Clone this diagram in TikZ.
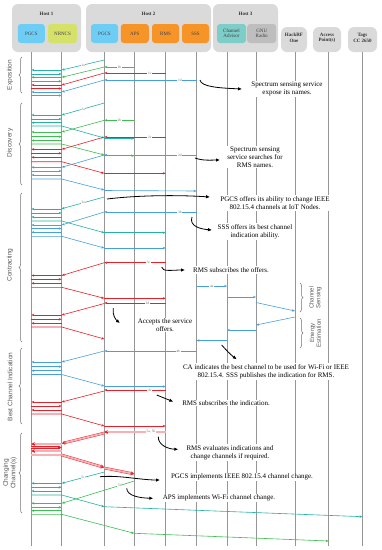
\documentclass[tikz,border=0pt]{standalone}
\usepackage{fontspec}
\setmainfont{Liberation Serif}
\setsansfont{Liberation Sans}
\usetikzlibrary{arrows.meta,decorations.pathreplacing,calc}
\definecolor{cteal}{RGB}{35,178,165}
\definecolor{cgreen}{RGB}{60,190,80}
\definecolor{cred}{RGB}{236,30,40}
\definecolor{cblue}{RGB}{70,160,220}
\definecolor{hostgrey}{RGB}{218,218,218}
\definecolor{pgcsblue}{RGB}{110,205,245}
\definecolor{nrncsyel}{RGB}{214,225,105}
\definecolor{apsorange}{RGB}{247,148,40}
\definecolor{cateal}{RGB}{125,205,200}
\definecolor{gnugrey}{RGB}{190,190,190}
\definecolor{lifegrey}{RGB}{150,150,150}
\tikzset{
 hostbox/.style={fill=hostgrey, rounded corners=6pt, inner sep=0pt},
 hostlbl/.style={font=\bfseries\fontsize{5}{5.5}\selectfont, text=black!80, align=center, inner sep=0pt},
 svc/.style={rounded corners=3pt, text=black!75, font=\fontsize{5}{5.5}\selectfont, align=center, inner sep=0pt, minimum height=19pt},
 life/.style={draw=lifegrey, line width=0.7pt},
 m/.style={line width=0.6pt, -{Stealth[length=3pt,width=2.4pt]}},
 dbl/.style={draw=cred, line width=0.4pt, double=cred!35, double distance=1.8pt, shorten >=2pt},
 dbltip/.style={cred, line width=0.5pt, -{Stealth[length=3.5pt,width=3.8pt]}},
 lbl/.style={fill=white, inner sep=0.8pt, font=\fontsize{3.5}{4}\selectfont, text=black!60},
 note/.style={fill=white, inner sep=1pt, font=\fontsize{7}{8}\selectfont, align=center},
 narrow/.style={line width=0.8pt, -{Latex[length=4pt,width=3.5pt]}},
 bracel/.style={decorate, decoration={brace, amplitude=3pt}, draw=black!55, line width=0.5pt},
 phase/.style={font=\sffamily\fontsize{6.5}{7.5}\selectfont, text=black!65, rotate=90, align=center},
}
\newcommand\seqm[6][m]{\draw[#1,#2] (#3 |- 0,#4) -- (#5 |- 0,#6);}
\newcommand\seqc[5][m]{\draw[#1,#2] (A |- 0,#3) -- (N |- 0,#3) -- (#4 |- 0,#5);}
\newcommand\dblm[4]{\draw[dbl] (#1 |- 0,#2) -- (#3 |- 0,#4);
 \draw[dbltip] ($(#3 |- 0,#4)!4pt!(#1 |- 0,#2)$) -- (#3 |- 0,#4);}
\begin{document}
\begin{tikzpicture}[x=1pt,y=-1pt]
\useasboundingbox (0,0) rectangle (381,550);
\fill[white] (0,0) rectangle (381,550);
% hosts
\node[hostbox, minimum width=69pt, minimum height=48pt] (host1) at (46.5,28) {};
\node[hostbox, minimum width=125pt, minimum height=48pt] (host2) at (148.5,28) {};
\node[hostbox, minimum width=65pt, minimum height=48pt] (host3) at (245.5,28) {};
\node[hostbox, minimum width=26pt, minimum height=25pt] (hackrf) at (294,39.5) {};
\node[hostbox, minimum width=28pt, minimum height=25pt] (ap) at (327,39.5) {};
\node[hostbox, minimum width=29pt, minimum height=25pt] (tags) at (362.5,39.5) {};
\node[hostlbl] (h1l) at (46.5,14) {Host 1};
\node[hostlbl] (h2l) at (148.5,14) {Host 2};
\node[hostlbl] (h3l) at (245.5,14) {Host 3};
\node[hostlbl] (hrl) at (294,38) {HackRF\\One};
\node[hostlbl] (apl) at (327,38) {Access\\Point(s)};
\node[hostlbl] (tgl) at (362.5,38) {Tags\\CC 2650};
\node[svc, fill=pgcsblue, minimum width=27pt] (pgcs1) at (31.3,33.5) {PGCS};
\node[svc, fill=nrncsyel, minimum width=29pt] (nrncs) at (62.5,33.5) {NRNCS};
\node[svc, fill=pgcsblue, minimum width=27pt] (pgcs2) at (104.5,33.5) {PGCS};
\node[svc, fill=apsorange, minimum width=28pt] (aps) at (134.8,33.5) {APS};
\node[svc, fill=apsorange, minimum width=27pt] (rms) at (165.5,33.5) {RMS};
\node[svc, fill=apsorange, minimum width=27pt] (sss) at (195.5,33.5) {SSS};
\node[svc, fill=cateal, minimum width=29pt] (ca) at (231.5,33.5) {Channel\\Advisor};
\node[svc, fill=gnugrey, minimum width=29pt] (gnu) at (261.7,33.5) {GNU\\Radio};
% lifelines
\coordinate (A) at (31.3,52);
\coordinate (N) at (61.7,52);
\coordinate (P) at (104.3,52);
\coordinate (Ap) at (134.3,52);
\coordinate (R) at (165.7,52);
\coordinate (S) at (196.5,52);
\coordinate (C) at (227,52);
\coordinate (G) at (256,52);
\coordinate (H) at (295,52);
\coordinate (W) at (328.5,52);
\coordinate (T) at (362.5,52);
\foreach \l in {A,N,P,Ap,R,S,C,G,H,W,T}{\draw[life] (\l) -- (\l |- 0,546);}
% ---------- Exposition
\draw[m,cteal] (P |- 0,60) -- (N |- 0,70) node[lbl,pos=0.5] (l1a) {1a};
\seqm{cteal}{N}{70}{A}{70}
\seqm{cteal}{A}{74}{N}{74}
\draw[m,cgreen] (Ap |- 0,67) -- (P |- 0,67) node[lbl,pos=0.5] (l1b) {1b};
\seqm{cgreen}{P}{67}{N}{77.3}
\seqm{cgreen}{N}{77.3}{A}{77.3}
\seqm{cgreen}{A}{81.3}{N}{81.3}
\draw[m,cred] (R |- 0,73) -- (P |- 0,73) node[lbl,pos=0.26] (l1c) {1c};
\seqm{cred}{P}{73}{N}{85}
\seqm{cred}{N}{85}{A}{85}
\seqm{cred}{A}{88.5}{N}{88.5}
\draw[m,cblue] (S |- 0,80) -- (P |- 0,80) node[lbl,pos=0.18] (l1d) {1d};
\seqm{cblue}{P}{80}{N}{92}
\seqm{cblue}{N}{92}{A}{92}
\seqm{cblue}{A}{95.5}{N}{95.5}
% ---------- Discovery
\draw[m,cteal] (P |- 0,103) -- (N |- 0,115) node[lbl,pos=0.5] (l2a) {2a};
\seqm{cteal}{N}{115}{A}{115}
\seqm{cteal}{A}{119}{N}{119}
\seqm{cteal}{N}{122.7}{A}{122.7}
\seqc{cteal}{126}{P}{138}
\seqm{cteal}{P}{138.5}{Ap}{138.5}
\draw[m,cgreen] (Ap |- 0,120.3) -- (P |- 0,120.3) node[lbl,pos=0.5] (l2b) {2b};
\seqm{cgreen}{P}{120.3}{N}{132}
\seqm{cgreen}{N}{132}{A}{132}
\seqm{cgreen}{A}{136.7}{N}{136.7}
\seqm{cgreen}{N}{140.5}{A}{140.5}
\seqc{cgreen}{144}{P}{155}
\seqm{cgreen}{P}{155.7}{Ap}{155.7}
\draw[m,cred] (R |- 0,137) -- (P |- 0,137) node[lbl,pos=0.26] (l2c) {2c};
\seqm{cred}{P}{137}{N}{149.3}
\seqm{cred}{N}{149.3}{A}{149.3}
\seqm{cred}{A}{153.3}{N}{153.3}
\seqm{cred}{N}{157.3}{A}{157.3}
\seqc{cred}{161.7}{P}{173.3}
\seqm{cred}{P}{173.3}{R}{173.3}
\draw[m,cblue] (S |- 0,155) -- (P |- 0,155) node[lbl,pos=0.18] (l2d) {2d};
\seqm{cblue}{P}{155}{N}{167.3}
\seqm{cblue}{N}{167.3}{A}{167.3}
\seqm{cblue}{A}{171}{N}{171}
\seqm{cblue}{N}{175}{A}{175}
\seqc{cblue}{179}{P}{190}
\seqm{cblue}{P}{190.5}{S}{191}
% ---------- Contracting
\draw[m,cteal] (P |- 0,197) -- (N |- 0,208.7) node[lbl,pos=0.5] (l3a) {3a};
\seqm{cteal}{N}{209}{A}{209}
\seqm{cteal}{A}{213}{N}{213}
\seqm{cteal}{N}{217}{A}{217}
\seqc{cteal}{221}{P}{232.7}
\seqm{cteal}{P}{232.7}{R}{232.7}
\draw[m,cblue] (S |- 0,212) -- (P |- 0,212) node[lbl,pos=0.18] (l3b) {3b};
\seqm{cblue}{P}{212}{N}{225}
\seqm{cblue}{N}{225}{A}{225}
\seqm{cblue}{A}{228.5}{N}{228.5}
\seqm{cblue}{N}{232.3}{A}{232.3}
\seqc{cblue}{236.3}{P}{248}
\seqm{cblue}{P}{248}{R}{248}
\draw[m,cred] (R |- 0,262.7) -- (P |- 0,262.7) node[lbl,pos=0.28] (l3c) {3c};
\seqm{cred}{P}{262.7}{N}{275.5}
\seqm{cred}{N}{275.5}{A}{275.5}
\seqm{cred}{A}{279.3}{N}{279.3}
\seqm{cred}{N}{283.3}{A}{283.3}
\seqc{cred}{287.3}{P}{298.3}
\seqm{cred}{P}{298.3}{R}{298.3}
\draw[m,cred] (R |- 0,303) -- (P |- 0,303) node[lbl,pos=0.3] (l3d) {3d};
\seqm{cred}{P}{303.5}{N}{315}
\seqm{cred}{N}{315}{A}{315}
\seqm{cred}{A}{319.3}{N}{319.3}
\seqm{cred}{N}{323.3}{A}{323.3}
\seqc{cred}{327}{P}{339}
% ---------- Channel sensing
\draw[m,cblue] (S |- 0,286) -- (C |- 0,286) node[lbl,pos=0.5] (l4a) {4a};
\seqm{cblue}{C}{297}{G}{297}
\seqm{cblue}{G}{302.5}{H}{311}
\seqm{cblue}{H}{317}{G}{325}
\seqm{cblue}{G}{330}{C}{330}
\seqm{cblue}{C}{340.5}{S}{340.5}
\draw[bracel] (300,283) -- (300,312);
\draw[bracel] (300,318) -- (300,348);
\node[phase, font=\sffamily\fontsize{6}{6.8}\selectfont] (cs) at (315.5,297.5) {Channel\\Sensing};
\node[phase, font=\sffamily\fontsize{6}{6.8}\selectfont] (ee) at (315.5,333) {Energy\\Estimation};
% ---------- Best channel indication
\draw[m,cblue] (S |- 0,351) -- (P |- 0,351) node[lbl,pos=0.2] (l4b) {4b};
\seqm{cblue}{P}{351}{N}{362}
\seqm{cblue}{N}{362}{A}{362}
\seqm{cblue}{A}{366.7}{N}{366.7}
\seqm{cblue}{N}{370.7}{A}{370.7}
\seqc{cblue}{374.5}{P}{386}
\seqm{cblue}{P}{386.5}{R}{386.5}
\draw[m,cred] (R |- 0,390) -- (P |- 0,390) node[lbl,pos=0.26] (l4c) {4c};
\seqm{cred}{P}{391}{N}{402}
\seqm{cred}{N}{402}{A}{402}
\seqm{cred}{A}{406}{N}{406}
\seqm{cred}{N}{410}{A}{410}
\seqc{cred}{414}{P}{426}
\seqm{cred}{P}{426}{R}{426}
% ---------- Changing channels
\dblm{R}{432}{P}{432}
\node[lbl] (l5a) at (151,432) {5a, 5b};
\dblm{P}{433}{N}{443.5}
\dblm{N}{444}{A}{444}
\dblm{A}{447.5}{N}{447.5}
\dblm{N}{451}{A}{451}
\draw[dbl, shorten >=0pt] (A |- 0,455) -- (N |- 0,455);
\dblm{N}{455}{P}{467.5}
\dblm{P}{468}{Ap}{474}
\draw[m,cteal] (P |- 0,472) -- (N |- 0,483.3) node[lbl,pos=0.5] (l5c) {5c};
\seqm{cteal}{N}{483.3}{A}{483.3}
\seqm{cteal}{A}{487.3}{N}{487.3}
\seqm{cteal}{N}{491}{A}{491}
\seqc{cteal}{495}{P}{506.7}
\seqm{cteal}{P}{506.7}{T}{516.7}
\draw[m,cgreen] (Ap |- 0,481) -- (N |- 0,503.3) node[lbl,pos=0.2] (l5d) {5d};
\seqm{cgreen}{N}{503.3}{A}{503.3}
\seqm{cgreen}{A}{507.3}{N}{507.3}
\seqm{cgreen}{N}{510.7}{A}{510.7}
\seqc{cgreen}{514.3}{Ap}{533.3}
\seqm{cgreen}{Ap}{533.3}{W}{541}
% ---------- phases
\draw[bracel] (22,93) -- (22,57);
\draw[bracel] (22,185) -- (22,103);
\draw[bracel] (22,342) -- (22,193);
\draw[bracel] (22,424) -- (22,348);
\draw[bracel] (22,513) -- (22,433);
\node[phase] (p1) at (10,75) {Exposition};
\node[phase] (p2) at (10,143) {Discovery};
\node[phase] (p3) at (10,265) {Contracting};
\node[phase] (p4) at (10,387) {Best Channel Indication};
\node[phase] (p5) at (10,473) {Changing\\Channel(s)};
% ---------- notes
\node[note] (n1) at (287,89) {Spectrum sensing service\\expose its names.};
\node[note] (n2) at (255,157) {Spectrum sensing\\service searches for\\RMS names.};
\node[note] (n3) at (275,203) {PGCS offers its ability to change IEEE\\802.15.4 channels at IoT Nodes.};
\node[note] (n4) at (255,231.5) {SSS offers its best channel\\indication ability.};
\node[note] (n5) at (231,270) {RMS subscribes the offers.};
\node[note] (n6) at (165,325) {Accepts the service\\offers.};
\node[note] (n7) at (266,371.5) {CA indicates the best channel to be used for Wi-Fi or IEEE\\802.15.4. SSS publishes the indication for RMS.};
\node[note] (n8) at (226,403) {RMS subscribes the indication.};
\node[note] (n9) at (230,452.5) {RMS evaluates indications and\\change channels if required.};
\node[note] (n10) at (242,477) {PGCS implements IEEE 802.15.4 channel change.};
\node[note] (n11) at (219,498) {APS implements Wi-Fi channel change.};
% annotation arrows
\coordinate (a1s) at (200,80);   \coordinate (a1e) at (242,89);
\coordinate (a2s) at (195,158);  \coordinate (a2e) at (220,160);
\coordinate (a3s) at (107,199);  \coordinate (a3e) at (210,197);
\coordinate (a4s) at (192,217);  \coordinate (a4e) at (212,230);
\coordinate (a5s) at (161.7,267);\coordinate (a5e) at (185,270);
\coordinate (a6s) at (113.3,308);\coordinate (a6e) at (120,323);
\coordinate (a7s) at (221.7,345);\coordinate (a7e) at (236.7,359.3);
\coordinate (a8s) at (156.7,395);\coordinate (a8e) at (173.3,401.7);
\coordinate (a9s) at (158.3,436.7);\coordinate (a9e) at (178.3,449.3);
\coordinate (a10s) at (100,476.7);\coordinate (a10e) at (160,480);
\coordinate (a11s) at (126.7,488.3);\coordinate (a11e) at (153.3,498.3);
\draw[narrow] (a1s) .. controls (201,87) and (220,88) .. (a1e);
\draw[narrow] (a2s) .. controls (203,161) and (212,160) .. (a2e);
\draw[narrow] (a3s) .. controls (140,195) and (180,195) .. (a3e);
\draw[narrow] (a4s) .. controls (189,226) and (200,229) .. (a4e);
\draw[narrow] (a5s) .. controls (162,272) and (172,270) .. (a5e);
\draw[narrow] (a6s) .. controls (112,315) and (116,320) .. (a6e);
\draw[narrow] (a7s) .. controls (226,350) and (231,355) .. (a7e);
\draw[narrow] (a8s) -- (a8e);
\draw[narrow] (a9s) .. controls (158,445) and (168,449) .. (a9e);
\draw[narrow] (a10s) .. controls (120,475) and (140,480) .. (a10e);
\draw[narrow] (a11s) .. controls (127,496) and (140,498) .. (a11e);
\end{tikzpicture}
\end{document}
